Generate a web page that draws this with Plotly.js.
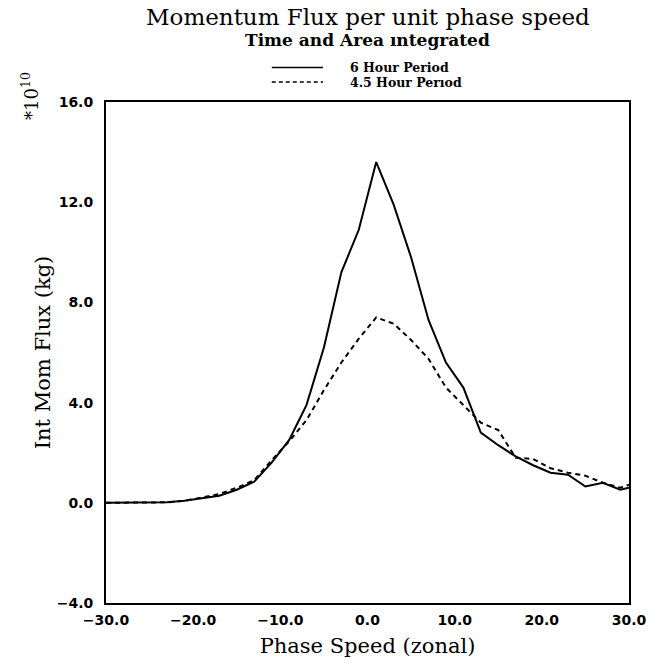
<!DOCTYPE html>
<html>
<head>
<meta charset="utf-8">
<script src="https://cdn.plot.ly/plotly-3.0.1.min.js"></script>
<style>html,body{margin:0;padding:0;background:#fff}#chart{width:663px;height:664px}</style>
</head>
<body>
<div id="chart"></div>
<script>
// Phase speed (zonal) grid
const phaseSpeed = [-30, -29, -27, -25, -23, -21, -19, -17, -15, -13, -11, -9, -7, -5, -3, -1, 1, 3, 5, 7, 9, 11, 13, 15, 17, 19, 21, 23, 25, 27, 29, 30];
// 6 hour period (solid)
const flux6h = [0, 0, 0, 0, 0.02, 0.08, 0.17, 0.28, 0.52, 0.84, 1.6, 2.5, 3.9, 6.2, 9.2, 10.9, 13.6, 11.9, 9.8, 7.3, 5.6, 4.6, 2.8, 2.3, 1.85, 1.5, 1.2, 1.12, 0.65, 0.8, 0.52, 0.6];
// 4.5 hour period (dashed)
const flux45h = [0, 0, 0, 0, 0.02, 0.08, 0.2, 0.35, 0.6, 0.9, 1.7, 2.45, 3.3, 4.5, 5.6, 6.55, 7.4, 7.15, 6.5, 5.75, 4.6, 3.9, 3.2, 2.9, 1.8, 1.75, 1.38, 1.2, 1.08, 0.8, 0.6, 0.72];
const seriesNames = ["6 Hour Period", "4.5 Hour Perıod"];
const xTicks = [-30, -20, -10, 0, 10, 20, 30];
const xTickText = ["\u221230.0", "\u221220.0", "\u221210.0", "0.0", "10.0", "20.0", "30.0"];
const yTicks = [-4, 0, 4, 8, 12, 16];
const yTickText = ["\u22124.0", "0.0", "4.0", "8.0", "12.0", "16.0"];

const serif = "DejaVu Serif, serif";
const tickFont = {family: "DejaVu Sans, sans-serif", size: 14, color: "#000", weight: 700};

const traces = [
  {x: phaseSpeed, y: flux6h, name: seriesNames[0], mode: "lines", line: {color: "#000", width: 2}},
  {x: phaseSpeed, y: flux45h, name: seriesNames[1], mode: "lines", line: {color: "#000", width: 2, dash: "5px,4px"}}
];

const layout = {
  width: 663, height: 664,
  margin: {l: 106, r: 34, t: 102, b: 61},
  paper_bgcolor: "#fff", plot_bgcolor: "#fff",
  showlegend: false,
  xaxis: {
    range: [-30, 30], tickvals: xTicks, ticktext: xTickText, tickfont: tickFont,
    showgrid: false, zeroline: false, showline: true, mirror: true, linecolor: "#000", linewidth: 2,
    ticks: "", ticklen: 0, ticklabelstandoff: 3,
    title: {text: "Phase Speed (zonal)", font: {family: serif, size: 21, color: "#000"}, standoff: 12}
  },
  yaxis: {
    range: [-4, 16], tickvals: yTicks, ticktext: yTickText, tickfont: tickFont,
    showgrid: false, zeroline: false, showline: true, mirror: true, linecolor: "#000", linewidth: 2,
    ticks: "", ticklen: 0, ticklabelstandoff: 8,
    title: {text: "Int Mom Flux (kg)", font: {family: serif, size: 21, color: "#000"}, standoff: 0}
  },
  annotations: [
    {text: "Momentum Flux per unit phase speed", xref: "paper", yref: "paper", x: 0.5, y: 1, yshift: 85, xanchor: "center", yanchor: "middle", showarrow: false, font: {family: serif, size: 23, color: "#000"}},
    {text: "Time and Area ıntegrated", xref: "paper", yref: "paper", x: 0.5, y: 1, yshift: 62, xanchor: "center", yanchor: "middle", showarrow: false, font: {family: serif, size: 17, color: "#000", weight: 700}},
    {text: seriesNames[0], xref: "paper", yref: "paper", x: 0.462, y: 1, yshift: 35, xanchor: "left", yanchor: "middle", showarrow: false, font: {family: serif, size: 12.5, color: "#000", weight: 700}},
    {text: seriesNames[1], xref: "paper", yref: "paper", x: 0.462, y: 1, yshift: 20, xanchor: "left", yanchor: "middle", showarrow: false, font: {family: serif, size: 12.5, color: "#000", weight: 700}},
    {text: "*10<sup>10</sup>", xref: "paper", yref: "paper", x: 0, y: 1, xshift: -76, yshift: 6, textangle: -90, xanchor: "center", yanchor: "middle", showarrow: false, font: {family: serif, size: 18, color: "#000"}}
  ],
  shapes: [
    {type: "line", xref: "paper", yref: "paper", x0: 0.317, x1: 0.415, y0: 1.069, y1: 1.069, line: {color: "#000", width: 1.5}},
    {type: "line", xref: "paper", yref: "paper", x0: 0.317, x1: 0.415, y0: 1.040, y1: 1.040, line: {color: "#000", width: 1.5, dash: "4px,3px"}}
  ]
};

Plotly.newPlot("chart", traces, layout, {displayModeBar: false, staticPlot: true});
</script>
</body>
</html>
